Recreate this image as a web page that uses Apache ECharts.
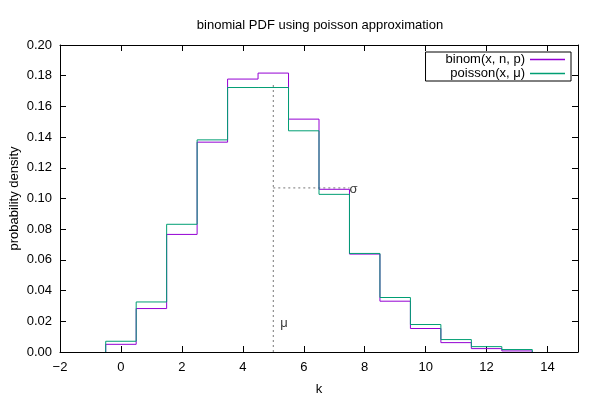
<!DOCTYPE html>
<html>
<head>
<meta charset="utf-8">
<script src="https://cdn.jsdelivr.net/npm/echarts@6/dist/echarts.min.js"></script>
<style>html,body{margin:0;padding:0;background:#fff;}#c{width:600px;height:400px;}</style>
</head>
<body>
<div id="c"></div>
<script>
// ---- data ----
const kValues = [0,1,2,3,4,5,6,7,8,9,10,11,12,13];
const binomValues = [0.0050,0.0283,0.0766,0.1367,0.1778,0.1817,0.1517,0.1060,0.0638,0.0331,0.0153,0.0061,0.0022,0.0007];
const poissonValues = [0.0070,0.0326,0.0832,0.1382,0.1723,0.1723,0.1441,0.1027,0.0642,0.0355,0.0179,0.0081,0.0035,0.0016];
const seriesNames = ['binom(x, n, p)', 'poisson(x, \u03bc)'];
const seriesColors = ['#9400d3', '#009e73'];
const muValue = 5;          // mean
const muLineTop = 0.1745;   // top of vertical dotted line
const sigmaLevel = 0.1069;  // level of horizontal dotted line
const sigmaEnd = 7.5;       // end of sigma line
const muLabelPos = [5.35, 0.0187];
const xTicks = [-2,0,2,4,6,8,10,12,14];
const yTicks = [0,0.02,0.04,0.06,0.08,0.10,0.12,0.14,0.16,0.18,0.20];

const FONT = "'Liberation Sans', Arial, sans-serif";
const FS = 13;

function histeps(ks, vs) {
  const pts = [[ks[0] - 0.5, 0]];
  for (let i = 0; i < ks.length; i++) {
    pts.push([ks[i] - 0.5, vs[i]]);
    pts.push([ks[i] + 0.5, vs[i]]);
  }
  pts.push([ks[ks.length - 1] + 0.5, 0]);
  return pts;
}

const chart = echarts.init(document.getElementById('c'), null, {renderer: 'canvas'});
const axisCommon = {
  axisLine: {show: true, onZero: false, lineStyle: {color: '#000', width: 1}},
  splitLine: {show: false},
  axisTick: {show: true, inside: true, length: 6, lineStyle: {color: '#000'}}
};
const option = {
  animation: false,
  backgroundColor: '#fff',
  graphic: [{
    type: 'text', x: 320, y: 25,
    style: {text: 'binomial PDF using poisson approximation', font: FS + 'px ' + FONT, fill: '#000', textAlign: 'center', textVerticalAlign: 'middle'}
  }],
  legend: {
    right: 29, top: 52,
    orient: 'vertical', align: 'right',
    itemWidth: 35, itemHeight: 1.5, itemGap: 1,
    padding: [1, 6, 1, 20],
    borderColor: '#000', borderWidth: 1,
    icon: 'rect',
    itemStyle: {borderWidth: 0},
    textStyle: {fontFamily: FONT, fontSize: FS, color: '#000'},
    data: seriesNames.map((n, i) => ({name: n, itemStyle: {color: seriesColors[i], borderWidth: 0}}))
  },
  grid: {left: 60, right: 22, top: 45, bottom: 48, containLabel: false, outerBoundsMode: 'none'},
  xAxis: [
    Object.assign({}, axisCommon, {
      type: 'value', min: -2, max: 15, interval: 2, position: 'bottom',
      name: 'k', nameLocation: 'middle', nameGap: 31, nameMoveOverlap: false,
      nameTextStyle: {fontFamily: FONT, fontSize: FS, color: '#000'},
      axisLabel: {
        fontFamily: FONT, fontSize: FS, color: '#000', margin: 9,
        formatter: v => xTicks.indexOf(v) >= 0 ? String(v).replace('-', '\u2212') : ''
      }
    }),
    Object.assign({}, axisCommon, {
      type: 'value', min: -2, max: 15, interval: 2, position: 'top',
      axisLabel: {show: false}
    })
  ],
  yAxis: [
    Object.assign({}, axisCommon, {
      type: 'value', min: 0, max: 0.2, interval: 0.02, position: 'left',
      name: 'probability density', nameLocation: 'middle', nameGap: 39, nameMoveOverlap: false,
      nameTextStyle: {fontFamily: FONT, fontSize: FS, color: '#000'},
      axisLabel: {
        fontFamily: FONT, fontSize: FS, color: '#000', margin: 8,
        formatter: v => yTicks.some(t => Math.abs(t - v) < 1e-9) ? v.toFixed(2) : ''
      }
    }),
    Object.assign({}, axisCommon, {
      type: 'value', min: 0, max: 0.2, interval: 0.02, position: 'right',
      axisLabel: {show: false}
    })
  ],
  series: [
    {
      name: 'mu-line', type: 'line', symbol: 'none', silent: true,
      data: [[muValue, 0], [muValue, muLineTop]],
      lineStyle: {color: '#777', width: 1, type: [2, 3]}, z: 1
    },
    {
      name: 'sigma-line', type: 'line', symbol: 'none', silent: true,
      data: [[muValue, sigmaLevel], [sigmaEnd, sigmaLevel]],
      lineStyle: {color: '#777', width: 1, type: [2, 3]}, z: 1
    },
    {
      name: 'sigma-label', type: 'scatter', symbolSize: 0, silent: true,
      data: [[sigmaEnd, sigmaLevel]],
      label: {show: true, position: 'right', distance: 0, offset: [0, 2], formatter: '\u03c3', fontFamily: FONT, fontSize: FS, color: '#000'}
    },
    {
      name: 'mu-label', type: 'scatter', symbolSize: 0, silent: true,
      data: [muLabelPos],
      label: {show: true, position: 'inside', formatter: '\u03bc', fontFamily: FONT, fontSize: FS, color: '#000'}
    },
    {
      name: seriesNames[0], type: 'line', symbol: 'none', showSymbol: false,
      data: histeps(kValues, binomValues),
      color: seriesColors[0], itemStyle: {color: seriesColors[0]}, lineStyle: {color: seriesColors[0], width: 1}, z: 3
    },
    {
      name: seriesNames[1], type: 'line', symbol: 'none', showSymbol: false,
      data: histeps(kValues, poissonValues),
      color: seriesColors[1], itemStyle: {color: seriesColors[1]}, lineStyle: {color: seriesColors[1], width: 1}, z: 4
    }
  ]
};
chart.setOption(option);
</script>
</body>
</html>
